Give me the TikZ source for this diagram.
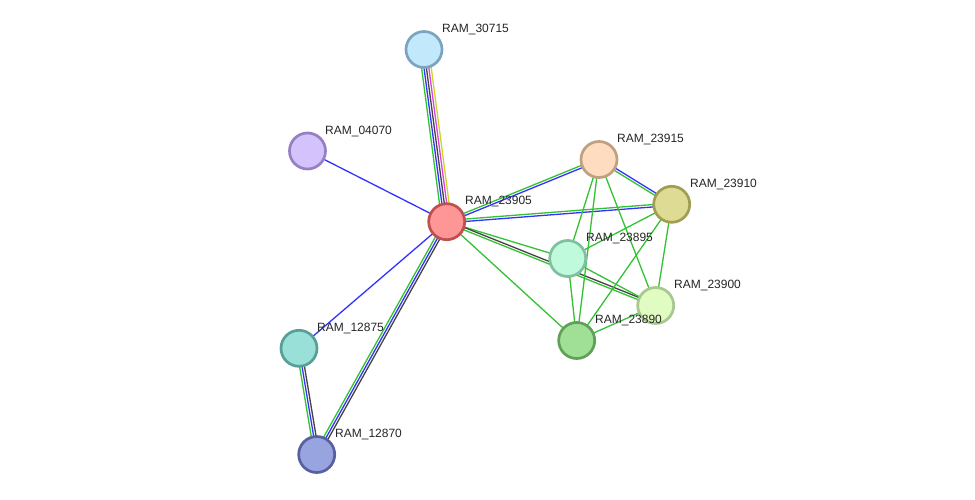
\documentclass[tikz,border=0pt]{standalone}
\usepackage{fontspec}
\setmainfont{Liberation Sans}
\usetikzlibrary{calc,backgrounds}
\definecolor{eg}{HTML}{33C233}
\definecolor{eb}{HTML}{3333FF}
\definecolor{ek}{HTML}{444444}
\definecolor{em}{HTML}{E040E0}
\definecolor{ey}{HTML}{C8D828}
\tikzset{
  prot/.style={circle, minimum size=36pt, inner sep=0pt, line width=2.7pt},
  lab/.style={anchor=west, inner sep=0pt, font=\fontsize{12pt}{14pt}\selectfont, text=black!85},
  ec/.style={line width=1.3pt},
}
\newcommand{\edg}[4]{\draw[ec,#4] ($(#1)!#3!90:(#2)$) -- ($(#2)!#3!-90:(#1)$);}
\begin{document}
\begin{tikzpicture}[x=1pt,y=-1pt]
\useasboundingbox (0,0) rectangle (975,500);
\node[prot, fill={rgb,255:red,194;green,232;blue,252}, draw={rgb,255:red,124;green,164;blue,192}] (n30715) at (424,49.5) {};
\node[prot, fill={rgb,255:red,212;green,194;blue,252}, draw={rgb,255:red,150;green,128;blue,196}] (n04070) at (307.5,151) {};
\node[prot, fill={rgb,255:red,255;green,150;blue,150}, draw={rgb,255:red,192;green,80;blue,80}] (n23905) at (446.7,221.7) {};
\node[prot, fill={rgb,255:red,253;green,220;blue,192}, draw={rgb,255:red,192;green,160;blue,128}] (n23915) at (599,159.5) {};
\node[prot, fill={rgb,255:red,222;green,219;blue,148}, draw={rgb,255:red,160;green,158;blue,84}] (n23910) at (671.7,204.3) {};
\node[prot, fill={rgb,255:red,192;green,250;blue,220}, draw={rgb,255:red,128;green,192;blue,160}] (n23895) at (567.7,258.5) {};
\node[prot, fill={rgb,255:red,224;green,252;blue,192}, draw={rgb,255:red,168;green,200;blue,144}] (n23900) at (655.7,305.5) {};
\node[prot, fill={rgb,255:red,160;green,224;blue,150}, draw={rgb,255:red,96;green,160;blue,88}] (n23890) at (576.7,340.5) {};
\node[prot, fill={rgb,255:red,152;green,224;blue,216}, draw={rgb,255:red,90;green,158;blue,152}] (n12875) at (299,348.3) {};
\node[prot, fill={rgb,255:red,152;green,164;blue,224}, draw={rgb,255:red,88;green,96;blue,160}] (n12870) at (316.7,454.5) {};
\node[lab] (l30715) at (442,30) {RAM\_30715};
\node[lab] (l04070) at (325,131.5) {RAM\_04070};
\node[lab] (l23905) at (465,202) {RAM\_23905};
\node[lab] (l23915) at (617,140) {RAM\_23915};
\node[lab] (l23910) at (690,185) {RAM\_23910};
\node[lab] (l23895) at (586,239) {RAM\_23895};
\node[lab] (l23900) at (674,286) {RAM\_23900};
\node[lab] (l23890) at (595,321) {RAM\_23890};
\node[lab] (l12875) at (317,329) {RAM\_12875};
\node[lab] (l12870) at (335,435) {RAM\_12870};
\begin{scope}[on background layer]
\fill[white] (0,0) rectangle (975,500);
\edg{n30715}{n23905}{-4.8pt}{eg}
\edg{n30715}{n23905}{-2.4pt}{eb}
\edg{n30715}{n23905}{0pt}{ek}
\edg{n30715}{n23905}{2.4pt}{em}
\edg{n30715}{n23905}{4.8pt}{ey}
\edg{n04070}{n23905}{0pt}{eb}
\edg{n23905}{n23915}{1.2pt}{eg}
\edg{n23905}{n23915}{-1.2pt}{eb}
\edg{n23905}{n23910}{1.2pt}{eg}
\edg{n23905}{n23910}{-1.2pt}{eb}
\edg{n23905}{n23895}{0pt}{eg}
\edg{n23905}{n23900}{1.2pt}{ek}
\edg{n23905}{n23900}{-1.2pt}{eg}
\edg{n23905}{n23890}{0pt}{eg}
\edg{n23905}{n12875}{0pt}{eb}
\edg{n23905}{n12870}{-2.4pt}{eg}
\edg{n23905}{n12870}{0pt}{eb}
\edg{n23905}{n12870}{2.4pt}{ek}
\edg{n12875}{n12870}{-2.4pt}{eg}
\edg{n12875}{n12870}{0pt}{eb}
\edg{n12875}{n12870}{2.4pt}{ek}
\edg{n23915}{n23910}{1.2pt}{eb}
\edg{n23915}{n23910}{-1.2pt}{eg}
\edg{n23915}{n23895}{0pt}{eg}
\edg{n23915}{n23890}{0pt}{eg}
\edg{n23915}{n23900}{0pt}{eg}
\edg{n23910}{n23895}{0pt}{eg}
\edg{n23910}{n23890}{0pt}{eg}
\edg{n23910}{n23900}{0pt}{eg}
\edg{n23895}{n23890}{0pt}{eg}
\edg{n23895}{n23900}{0pt}{eg}
\edg{n23890}{n23900}{0pt}{eg}
\end{scope}
\end{tikzpicture}
\end{document}
